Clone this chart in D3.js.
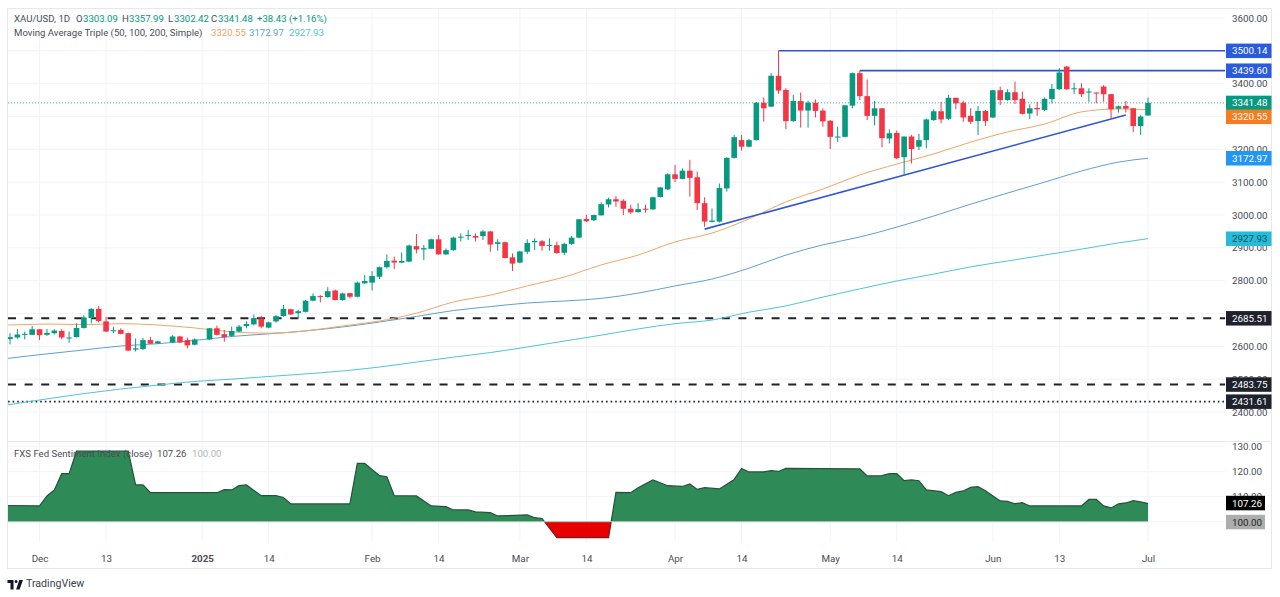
<!DOCTYPE html>
<html>
<head>
<meta charset="utf-8">
<script src="https://cdn.jsdelivr.net/npm/d3@7"></script>
<style>
  html, body { margin: 0; padding: 0; background: #fff; }
  svg { display: block; }
  text { font-family: Roboto, sans-serif; font-size: 9.6px; fill: #3d4148; }
  .axis text { font-size: 9.8px; fill: #474b55; }
  .axis .domain { display: none; }
</style>
</head>
<body>
<svg id="chart" width="1280" height="597"></svg>
<script>
// one entry per daily slot, null where the market had no bar (Dec 25, Jan 1)
const opens = [
  2622, 2627, 2635, 2635, 2652, 2635, 2640, 2647, 2626, 2628,
  2656, 2686, 2714, 2676, 2647, 2650, 2640, 2590, 2592, 2619,
  2609, null, 2612, 2630, 2619, 2605, null, 2621, 2655, 2637,
  2632, 2645, 2662, 2667, 2685, 2657, 2676, 2692, 2713, 2701,
  2705, 2739, 2753, 2750, 2770, 2741, 2762, 2751, 2792, 2794,
  2812, 2841, 2861, 2855, 2858, 2905, 2895, 2897, 2926, 2880,
  2893, 2931, 2937, 2936, 2936, 2950, 2912, 2917, 2871, 2855,
  2888, 2917, 2920, 2907, 2908, 2885, 2912, 2931, 2988, 2984,
  2999, 3032, 3048, 3043, 3019, 3009, 3019, 3017, 3055, 3078,
  3124, 3110, 3135, 3115, 3036, 2979, 2980, 3081, 3174, 3228,
  3208, 3228, 3342, 3330, 3424, 3381, 3286, 3347, 3318, 3342,
  3318, 3287, 3237, 3238, 3333, 3432, 3362, 3302, 3325, 3233,
  3250, 3176, 3239, 3208, 3228, 3289, 3316, 3293, 3357, 3342,
  3302, 3286, 3317, 3297, 3380, 3350, 3374, 3354, 3309, 3326,
  3320, 3353, 3383, 3452, 3383, 3386, 3374, 3373, 3391, 3368,
  3324, 3332, 3325, 3271, 3303.09
];
const highs = [
  2640, 2652, 2645, 2662, 2652, 2653, 2652, 2652, 2645, 2670,
  2695, 2716, 2723, 2690, 2660, 2655, 2642, 2624, 2626, 2629,
  2617, null, 2634, 2632, 2627, 2624, null, 2656, 2663, 2650,
  2660, 2665, 2676, 2697, 2693, 2675, 2695, 2726, 2714, 2711,
  2741, 2761, 2756, 2780, 2773, 2763, 2763, 2797, 2817, 2829,
  2843, 2880, 2873, 2886, 2910, 2942, 2909, 2928, 2939, 2898,
  2934, 2944, 2954, 2944, 2954, 2951, 2926, 2919, 2883, 2891,
  2926, 2929, 2924, 2929, 2919, 2916, 2936, 2988, 3001, 3001,
  3038, 3053, 3058, 3048, 3031, 3036, 3031, 3056, 3086, 3127,
  3152, 3142, 3168, 3132, 3054, 3020, 3096, 3176, 3244, 3244,
  3232, 3344, 3358, 3432, 3500.14, 3386, 3366, 3373, 3348, 3352,
  3325, 3289, 3269, 3335, 3434, 3439.6, 3413, 3347, 3325, 3261,
  3257, 3239, 3244, 3247, 3294, 3322, 3345, 3366, 3357, 3348,
  3325, 3332, 3320, 3381, 3391, 3383, 3406, 3376, 3337, 3345,
  3358, 3399, 3447, 3454, 3403, 3401, 3386, 3373, 3396, 3368,
  3333, 3347, 3325, 3304, 3357.99
];
const lows = [
  2606, 2623, 2621, 2634, 2619, 2632, 2636, 2622, 2611, 2627,
  2654, 2670, 2673, 2643, 2640, 2637, 2586, 2584, 2589, 2607,
  2607, null, 2610, 2610, 2594, 2603, null, 2619, 2633, 2614,
  2629, 2643, 2655, 2664, 2655, 2655, 2672, 2690, 2696, 2684,
  2703, 2737, 2734, 2748, 2740, 2739, 2746, 2749, 2790, 2770,
  2805, 2837, 2835, 2853, 2856, 2883, 2863, 2896, 2879, 2878,
  2891, 2919, 2924, 2919, 2924, 2888, 2891, 2868, 2829, 2853,
  2881, 2893, 2891, 2891, 2882, 2878, 2909, 2929, 2978, 2982,
  2998, 3023, 3025, 3000, 3003, 3007, 3007, 3016, 3053, 3076,
  3100, 3109, 3056, 3015, 2964, 2977, 2977, 3071, 3172, 3196,
  3206, 3227, 3284, 3328, 3369, 3261, 3284, 3266, 3266, 3297,
  3269, 3201, 3223, 3236, 3325, 3350, 3289, 3273, 3206, 3218,
  3170, 3122, 3157, 3198, 3203, 3287, 3279, 3289, 3322, 3284,
  3277, 3244, 3271, 3295, 3335, 3348, 3338, 3306, 3292, 3302,
  3317, 3340, 3381, 3381, 3369, 3360, 3345, 3340, 3345, 3294,
  3312, 3312, 3253, 3244, 3302.42
];
const closes = [
  2628, 2636, 2638, 2652, 2634, 2641, 2648, 2627, 2627, 2656,
  2688, 2714, 2677, 2645, 2649, 2638, 2587, 2594, 2619, 2608,
  2615, null, 2630, 2612, 2603, 2621, null, 2655, 2635, 2628,
  2647, 2660, 2668, 2686, 2660, 2673, 2692, 2714, 2697, 2707,
  2739, 2753, 2751, 2768, 2741, 2761, 2751, 2794, 2799, 2814,
  2841, 2860, 2855, 2860, 2907, 2895, 2899, 2926, 2880, 2893,
  2931, 2934, 2939, 2931, 2950, 2910, 2917, 2869, 2852, 2889,
  2915, 2921, 2906, 2909, 2884, 2912, 2931, 2987, 2981, 3000,
  3033, 3048, 3041, 3019, 3008, 3018, 3017, 3054, 3084, 3124,
  3110, 3135, 3113, 3036, 2980, 2983, 3082, 3174, 3237, 3208,
  3228, 3342, 3325, 3424, 3379, 3286, 3347, 3318, 3342, 3317,
  3285, 3238, 3239, 3334, 3432, 3362, 3302, 3325, 3234, 3249,
  3173, 3239, 3201, 3228, 3291, 3316, 3291, 3357, 3340, 3297,
  3284, 3317, 3286, 3380, 3350, 3374, 3350, 3308, 3325, 3322,
  3354, 3384, 3434, 3383, 3386, 3368, 3376, 3371, 3368, 3322,
  3331, 3324, 3271, 3300, 3341.48
];

// moving averages, every 5 bars
const maSlots = [
  -1, 0, 5, 10, 15, 20, 25, 30, 35, 40, 45, 50, 55, 60, 65, 70, 75, 80, 85, 90, 95,
  100, 105, 110, 115, 120, 125, 130, 135, 140, 145, 150, 154
];
const ma50 = [
  2665, 2665, 2668, 2666, 2669, 2665, 2656, 2644, 2640, 2647, 2662, 2677, 2701, 2735, 2756, 2784, 2811,
  2848, 2878, 2918, 2945, 2988, 3040, 3079, 3122, 3155, 3186, 3222, 3253, 3277, 3314, 3323, 3320.55
];
const ma100 = [
  2561, 2564, 2577, 2589, 2601, 2608, 2618, 2630, 2638, 2647, 2659, 2674, 2691, 2709, 2721, 2732, 2738,
  2746, 2762, 2784, 2805, 2838, 2878, 2909, 2933, 2963, 2997, 3033, 3067, 3100, 3134, 3161, 3172.97
];
const ma200 = [
  2420, 2423, 2440, 2456, 2470, 2482, 2493, 2500, 2508, 2516, 2525, 2537, 2552, 2567, 2581, 2598, 2616,
  2634, 2653, 2669, 2680, 2704, 2723, 2750, 2775, 2799, 2820, 2842, 2860, 2878, 2896, 2915, 2927.93
];

// FXS Fed Sentiment Index turning points
const fedSlots = [
  -1, 4, 5, 6, 7, 8, 9, 16, 17, 18, 19, 28, 29, 30, 31, 32, 34, 36, 37, 38, 46, 47, 48, 50, 51, 52, 55, 57, 59,
  60, 62, 63, 65, 66, 70, 71, 72, 74, 81, 82, 84, 85, 87, 89, 91, 92, 93, 94, 96, 98, 99, 100, 102, 103, 104,
  105, 115, 116, 118, 119, 120, 121, 122, 123, 124, 126, 127, 128, 129, 130, 131, 132, 134, 135, 136, 137,
  138, 145, 146, 147, 148, 149, 150, 151, 152, 153, 154
];
const fedValues = [
  106.5, 106.3, 110.3, 112.7, 119.2, 119.2, 128.2, 128.2, 114.7, 114.7, 111.6, 111.6, 112.8, 112.7, 114.4,
  114.7, 110.4, 110.4, 109.7, 107.1, 107.1, 123.3, 123.3, 118.4, 118, 110.4, 110.3, 106.3, 106,
  104.7, 104.7, 103.9, 103.6, 102.3, 102.7, 101.6, 101.3, 93.6, 93.6, 111.7, 111.6, 113.6, 116.7, 114.4,
  114.1, 115.1, 112.9, 113.6, 113.1, 116.9, 121.3, 119.9, 119.9, 120.4, 120.1,
  121.3, 121.1, 118.3, 118.4, 119.2, 119.2, 116.4, 116.7, 116.4, 112.7, 112, 110.4, 111.7, 112.3, 113.7,
  114, 112.4, 108.3, 108.1, 107.2, 107.6,
  106.3, 106.3, 108.9, 108.9, 106.3, 105.5, 107.1, 107.5, 108.4, 107.9, 107.26
];

const gridPrices = d3.range(2400, 3700, 100);
// 2700, 3300 and 3500 sit behind the value tags and don't show in the axis
const priceTicks = [2400, 2500, 2600, 2800, 2900, 3000, 3100, 3200, 3400, 3600];
const fedTicks = [100, 110, 120, 130];
const dateSlots = [4, 13, 26, 35, 49, 58, 69, 78, 90, 99, 111, 120, 133, 142, 154];
const dateLabels = ["Dec", "13", "2025", "14", "Feb", "14", "Mar", "14", "Apr", "14", "May", "14", "Jun", "13", "Jul"];

const lastPrice = 3341.48;
const dashedLevels = [2685.51, 2483.75];
const dottedLevel = 2431.61;

const colUp = "#089981", colDown = "#f23645";
const col50 = "#f2a566", col100 = "#5f9fd2", col200 = "#4fc3d9";

const svg = d3.select("#chart");
const x = d3.scaleLinear().domain([0, 154]).range([10, 1148]);
const y = d3.scaleLinear().domain([2400, 3600]).range([412, 18]);
const yFed = d3.scaleLinear().domain([100, 130]).range([521.7, 446.7]);

const defs = svg.append("defs");
defs.append("clipPath").attr("id", "pricePane").append("rect")
  .attr("x", 8).attr("y", 9).attr("width", 1217).attr("height", 431);
defs.append("clipPath").attr("id", "fedUp").append("rect")
  .attr("x", 8).attr("y", 442).attr("width", 1217).attr("height", yFed(100) - 442);
defs.append("clipPath").attr("id", "fedDown").append("rect")
  .attr("x", 8).attr("y", yFed(100)).attr("width", 1217).attr("height", 40);

// grid
const grid = svg.append("g").attr("stroke", "#f1f3f8").attr("stroke-width", 1);
dateSlots.forEach(s => {
  grid.append("line").attr("x1", x(s)).attr("x2", x(s)).attr("y1", 9).attr("y2", 542);
});
gridPrices.forEach(v => {
  grid.append("line").attr("x1", 8).attr("x2", 1225).attr("y1", y(v)).attr("y2", y(v));
});
fedTicks.forEach(v => {
  grid.append("line").attr("x1", 8).attr("x2", 1225).attr("y1", yFed(v)).attr("y2", yFed(v));
});

// frame
svg.append("rect").attr("x", 7.5).attr("y", 8.5).attr("width", 1264).attr("height", 560)
  .attr("fill", "none").attr("stroke", "#e6e8ee");
svg.append("line").attr("x1", 8).attr("x2", 1272).attr("y1", 441.5).attr("y2", 441.5).attr("stroke", "#e6e8ee");

const price = svg.append("g").attr("clip-path", "url(#pricePane)");

// horizontal levels
dashedLevels.forEach(v => {
  price.append("line").attr("x1", 8).attr("x2", 1225).attr("y1", y(v)).attr("y2", y(v))
    .attr("stroke", "#1e222d").attr("stroke-width", 1.8).attr("stroke-dasharray", "8,8.6");
});
price.append("line").attr("x1", 8).attr("x2", 1225).attr("y1", y(dottedLevel)).attr("y2", y(dottedLevel))
  .attr("stroke", "#1e222d").attr("stroke-width", 1.6).attr("stroke-dasharray", "1.6,3");
price.append("line").attr("x1", 8).attr("x2", 1225).attr("y1", y(lastPrice)).attr("y2", y(lastPrice))
  .attr("stroke", colUp).attr("stroke-opacity", 0.75).attr("stroke-dasharray", "1,2");

// moving averages
const maLine = d3.line().x((d, i) => x(maSlots[i])).y(d => y(d)).curve(d3.curveMonotoneX);
[[ma200, col200], [ma100, col100], [ma50, col50]].forEach(m => {
  price.append("path").attr("d", maLine(m[0])).attr("fill", "none")
    .attr("stroke", m[1]).attr("stroke-width", 1);
});

// trend line and the two swing highs
const swingLines = [
  [94, 2957, 151, 3304.5],
  [104, 3500.14, 999, 3500.14],
  [115, 3439.6, 999, 3439.6]
];
swingLines.forEach(l => {
  price.append("line").attr("x1", x(l[0])).attr("y1", y(l[1]))
    .attr("x2", l[2] > 154 ? 1225 : x(l[2])).attr("y2", y(l[3]))
    .attr("stroke", "#2f55d4").attr("stroke-width", 1.6);
});

// candles
const slots = d3.range(opens.length).filter(i => opens[i] !== null);
const candleColor = i => closes[i] >= opens[i] ? colUp : colDown;
const candle = price.selectAll("g.candle").data(slots).join("g").attr("class", "candle");
candle.append("line")
  .attr("x1", i => x(i)).attr("x2", i => x(i))
  .attr("y1", i => y(highs[i])).attr("y2", i => y(lows[i]))
  .attr("stroke", candleColor).attr("stroke-width", 1);
candle.append("rect")
  .attr("x", i => x(i) - 2.8).attr("width", 5.6)
  .attr("y", i => y(Math.max(opens[i], closes[i])))
  .attr("height", i => Math.max(1, Math.abs(y(opens[i]) - y(closes[i]))))
  .attr("fill", candleColor);

// sentiment pane
const fedArea = d3.area().x((d, i) => x(fedSlots[i])).y0(yFed(100)).y1(d => yFed(d));
const fedLine = d3.line().x((d, i) => x(fedSlots[i])).y(d => yFed(d));
const fedPane = svg.append("g");
const upPart = fedPane.append("g").attr("clip-path", "url(#fedUp)");
upPart.append("path").attr("d", fedArea(fedValues)).attr("fill", "#2e8b57");
upPart.append("path").attr("d", fedLine(fedValues)).attr("fill", "none")
  .attr("stroke", "#24523a").attr("stroke-width", 1.2);
const downPart = fedPane.append("g").attr("clip-path", "url(#fedDown)");
downPart.append("path").attr("d", fedArea(fedValues)).attr("fill", "#e60000");
downPart.append("path").attr("d", fedLine(fedValues)).attr("fill", "none")
  .attr("stroke", "#7d1c1c").attr("stroke-width", 1.2);
fedPane.append("line").attr("x1", 8).attr("x2", x(154)).attr("y1", yFed(100)).attr("y2", yFed(100))
  .attr("stroke", "#a9c9b6").attr("stroke-width", 1);

// axes
svg.append("g").attr("class", "axis").attr("transform", "translate(1232,0)")
  .call(d3.axisRight(y).tickValues(priceTicks).tickSize(0).tickPadding(0).tickFormat(d3.format(".2f")));
svg.append("g").attr("class", "axis").attr("transform", "translate(1232,0)")
  .call(d3.axisRight(yFed).tickValues(fedTicks.slice(1)).tickSize(0).tickPadding(0).tickFormat(d3.format(".2f")));
const dateAxis = svg.append("g").attr("class", "axis").attr("transform", "translate(0,552)")
  .call(d3.axisBottom(x).tickValues(dateSlots).tickSize(0).tickPadding(3)
    .tickFormat(s => dateLabels[dateSlots.indexOf(s)]));
dateAxis.selectAll("text").filter(s => s === 26).style("font-weight", "bold");

// right side value tags: value, background, text, nudge
const tagRows = [
  [3500.14, "#2a5bdc", "#fff", 0],
  [3439.6, "#2a5bdc", "#fff", 0],
  [3341.48, colUp, "#fff", 0],
  [3320.55, "#f57c1f", "#fff", 7],
  [3172.97, "#2196f3", "#fff", 0],
  [2927.93, "#26bcd7", "#14505e", 0],
  [2685.51, "#1e222d", "#fff", 0],
  [2483.75, "#1e222d", "#fff", 0],
  [2431.61, "#1e222d", "#fff", 0]
];
const tag = svg.selectAll("g.tag").data(tagRows).join("g").attr("class", "tag");
tag.append("rect").attr("x", 1226).attr("width", 45.5).attr("height", 14.5)
  .attr("y", d => y(d[0]) + d[3] - 7.2).attr("fill", d => d[1]);
tag.append("text").attr("x", 1232).attr("y", d => y(d[0]) + d[3] + 3.6)
  .style("font-size", "9.8px").style("fill", d => d[2])
  .text(d => d3.format(".2f")(d[0]));

const fedTags = [[107.26, "#000", "#fff", 503], [100, "#adadad", "#222", 522]];
const fedTag = svg.selectAll("g.fedtag").data(fedTags).join("g").attr("class", "fedtag");
fedTag.append("rect").attr("x", 1226).attr("width", 39).attr("height", 14.5)
  .attr("y", d => d[3] - 7.2).attr("fill", d => d[1]);
fedTag.append("text").attr("x", 1232).attr("y", d => d[3] + 3.6)
  .style("font-size", "9.8px").style("fill", d => d[2])
  .text(d => d3.format(".2f")(d[0]));

// legends
function legendRow(py, parts) {
  parts.forEach(p => {
    svg.append("text").attr("x", p[0]).attr("y", py).style("fill", p[2]).text(p[1]);
  });
}
const dark = "#4a4e57";
legendRow(22, [
  [14, "XAU/USD, 1D", dark],
  [76, "O", dark], [83, "3303.09", colUp],
  [122, "H", dark], [129, "3357.99", colUp],
  [168, "L", dark], [174, "3302.42", colUp],
  [211, "C", dark], [218, "3341.48", colUp],
  [257, "+38.43", colUp], [289, "(+1.16%)", colUp]
]);
legendRow(36, [
  [14, "Moving Average Triple (50, 100, 200, Simple)", dark],
  [211, "3320.55", col50], [249, "3172.97", col100], [289, "2927.93", col200]
]);
legendRow(456.5, [
  [14, "FXS Fed Sentiment Index (close)", dark],
  [157, "107.26", dark], [192, "100.00", "#b2b5be"]
]);

// footer logo
svg.append("path").attr("transform", "translate(7.5,577.5) scale(0.43)")
  .attr("fill", "#131722")
  .attr("d", "M14 6H0v7h7v15h7V6Zm14 22h-8l7.5-22H36l-8 22ZM20 6a3.5 3.5 0 1 1 0 7 3.5 3.5 0 0 1 0-7Z");
svg.append("text").attr("x", 26).attr("y", 587).style("font-size", "10.6px").style("fill", "#3a3e47").text("TradingView");
</script>
</body>
</html>
